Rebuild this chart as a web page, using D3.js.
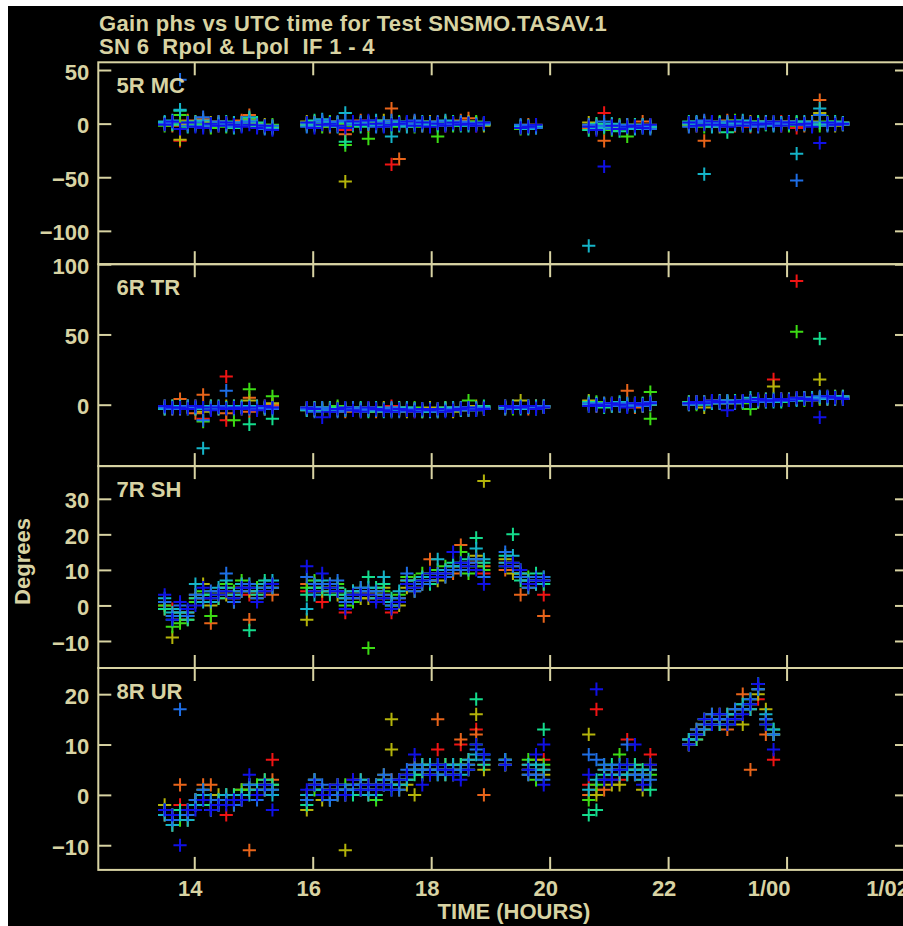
<!DOCTYPE html>
<html>
<head>
<meta charset="utf-8">
<script src="https://cdn.jsdelivr.net/npm/d3@7/dist/d3.min.js"></script>
<style>
  html, body { margin: 0; padding: 0; background: #ffffff; }
  svg { display: block; }
</style>
</head>
<body>
<script>
// Antenna panels, top to bottom
const stations = ["5R MC", "6R TR", "7R SH", "8R UR"];

// One colour per IF / polarization solution (8 series)
const seriesColors = ["#f01414", "#e8641a", "#b4b40a", "#3cdc14", "#14dc8c", "#14b4c8", "#1e6ee6", "#1010e6"];

// Time axis ticks (hours UTC; 24 and 26 roll over to day 1)
const timeTicks = [14, 16, 18, 20, 22, 24, 26];
const timeTickLabels = ["14", "16", "18", "20", "22", "1/00", "1/02"];

// Phase axis ticks for each panel (degrees)
const yTicksMC = [50, 0, -50, -100];
const yTicksTR = [100, 50, 0];
const yTicksSH = [30, 20, 10, 0, -10];
const yTicksUR = [20, 10, 0, -10];

// Gain phase rows: [time (h), series 1 .. series 8]  (null = no solution)
const phaseMC = [
  [13.50, -1, 1, 0, -2, 1, 2, 0, -1],
  [13.63, 1, -2, 2, 0, -1, 3, 1, 2],
  [13.76, -16, 2, -15, 8, 12, 13, 41, -5],
  [13.89, 0, 3, -1, 2, -3, 1, -2, 1],
  [14.02, 2, 1, 0, -1, 2, -2, 1, -3],
  [14.15, 1, 4, 2, 0, -2, 3, 6, -4],
  [14.28, -1, -3, 1, -4, 0, -1, -2, 0],
  [14.41, 0, 2, -2, 1, -1, 0, 2, -2],
  [14.54, 1, -1, 0, -3, 2, -2, -1, 1],
  [14.67, -2, 0, 1, -2, -4, 1, -3, -1],
  [14.80, 2, 3, -1, 0, 1, -2, 1, -3],
  [14.93, 4, 8, 2, 5, 3, 6, 2, -1],
  [15.06, -1, -2, 0, -3, 1, -2, -1, -4],
  [15.19, -3, -2, -1, -4, -2, -3, -5, -2],
  [15.32, -2, -4, -3, -1, -3, -5, -2, -6],
  [15.90, 0, -1, 2, 1, -2, 0, -3, 1],
  [16.03, 1, 2, -1, 0, 3, -2, 1, -4],
  [16.16, -2, 0, 1, -3, 2, 4, 3, -1],
  [16.29, 2, -3, 0, 2, -1, 1, -2, 0],
  [16.42, -1, 1, -2, 0, 1, -3, 2, -2],
  [16.55, -6, -10, -54, -20, -17, 10, 3, -4],
  [16.68, 1, 0, 2, -2, 0, 1, -1, 2],
  [16.81, -2, 3, 0, 1, -3, 0, 2, -1],
  [16.94, 0, -2, 1, -14, 2, -1, 0, 3],
  [17.07, 2, 1, -1, 0, -2, 3, -3, 0],
  [17.20, -1, 0, 3, -2, 1, -2, 1, -3],
  [17.33, -38, 14, 2, -3, 0, -12, 3, -1],
  [17.46, 1, -33, 0, 2, -2, 1, -1, 0],
  [17.59, -2, 1, -1, 0, 2, -3, 0, 2],
  [17.72, 0, 2, 1, -3, -1, 0, 3, -2],
  [17.85, 1, -1, -2, 1, 0, 2, -2, 1],
  [17.98, -1, 0, 2, -2, 1, -1, 1, -3],
  [18.11, 0, 1, -1, -12, -2, 0, 2, 0],
  [18.24, 2, -2, 0, 1, -1, 3, -1, -2],
  [18.37, -1, 0, 1, -2, 2, -1, 0, 1],
  [18.50, 0, 3, -1, 0, -2, 1, 2, -1],
  [18.63, 1, 5, 2, -1, 0, -2, 1, 0],
  [18.76, -2, 0, 1, 2, -1, 0, -1, -2],
  [18.89, 0, -1, -2, 0, 1, -1, 0, 1],
  [19.51, -4, -2, -3, -5, -2, -3, -1, -4],
  [19.64, -3, -1, -4, -2, -3, -5, -2, -3],
  [19.77, -2, -3, -1, -4, -2, -3, -4, -1],
  [20.66, -2, -4, 1, -3, -6, -114, -1, -3],
  [20.79, -1, -3, -5, -2, 0, -4, -2, -6],
  [20.92, 10, -16, -2, -4, -1, -3, 2, -40],
  [21.05, -3, -1, -4, -6, -2, 0, -5, -2],
  [21.18, -4, -2, -3, -1, -7, -3, -2, -5],
  [21.31, -2, -5, -1, -12, -3, -4, -1, -3],
  [21.44, -3, -1, -4, -2, -1, -5, -3, -2],
  [21.57, -1, 2, -2, -3, -4, -1, -2, -4],
  [21.70, -2, -3, -1, -4, -2, -3, -5, -1],
  [22.35, 0, -2, 1, -1, 2, 0, -3, 1],
  [22.48, -1, 1, -2, 0, -1, 2, 1, -2],
  [22.61, 2, -16, 0, -3, 1, -47, 3, -1],
  [22.74, -2, 0, 2, 1, -1, -3, 0, 2],
  [22.87, 1, -1, -3, 2, 0, 1, -2, -1],
  [23.00, 0, 3, 1, -1, -8, 0, 2, -3],
  [23.13, -1, -2, 0, 3, 1, -1, -1, 2],
  [23.26, 2, 0, -1, -2, 0, 3, 1, -2],
  [23.39, -3, 1, 2, 0, -2, -1, 0, 1],
  [23.52, 0, -1, -2, 1, 2, 0, -3, -1],
  [23.65, 1, 2, 0, -1, -1, 2, 1, 0],
  [23.78, -1, 0, 1, 2, 0, -2, -1, 2],
  [23.91, 2, -2, -1, 0, 1, 1, 0, -2],
  [24.04, 0, 1, 2, -2, -1, 0, 2, 1],
  [24.17, -4, 0, -1, 1, 2, -28, -53, -1],
  [24.30, 1, -2, 0, -1, 0, 2, -1, 0],
  [24.43, -2, 1, 2, 0, -2, -1, 1, -3],
  [24.56, 0, 22, 10, -2, 1, 14, 8, -18],
  [24.69, 1, -1, 0, 2, -1, 0, -2, 1],
  [24.82, -1, 0, -2, 0, 2, -1, 1, -1],
  [24.95, 0, -1, 1, -1, 0, 1, -1, 0]
];

const phaseTR = [
  [13.50, -2, -1, -3, -2, -1, -3, -2, -1],
  [13.63, -1, -3, -2, -1, -2, -1, -3, -2],
  [13.76, -3, 4, -1, -2, -2, -1, -3, -2],
  [13.89, -2, -1, -2, -3, -1, -2, -1, -3],
  [14.02, -1, -6, -3, -1, -2, -3, -2, -1],
  [14.15, -10, 7, -5, -12, -2, -31, -11, -2],
  [14.28, -3, -2, -1, -2, -3, -1, -2, -4],
  [14.41, -2, -3, -2, -1, -2, -3, -1, -2],
  [14.54, 20, -6, -1, -3, -2, -2, 10, -3],
  [14.54, -11, null, null, null, null, null, null, null],
  [14.67, -2, -3, -1, -11, -2, -1, -3, -2],
  [14.80, -1, -2, -3, -2, -1, -2, -2, -3],
  [14.93, -2, 5, 3, 11, -14, -1, -3, -2],
  [14.93, null, -5, null, null, null, null, null, null],
  [15.06, -3, -1, -2, -2, -3, -1, -2, -4],
  [15.19, -2, -3, -1, -3, -2, -2, -3, -1],
  [15.32, -1, 0, 1, 6, -10, -2, -3, -2],
  [15.90, -3, -2, -4, -3, -2, -4, -3, -2],
  [16.03, -4, -3, -2, -4, -3, -2, -5, -3],
  [16.16, -3, -4, -3, -2, -4, -3, -2, -9],
  [16.29, -2, -3, -4, -3, -2, -4, -3, -5],
  [16.42, -4, -3, -2, -1, -3, -4, -5, -3],
  [16.55, -3, -5, -3, -4, -2, -3, -4, -2],
  [16.68, -2, -4, -3, -2, -4, -3, -2, -4],
  [16.81, -4, -3, -5, -3, -2, -4, -3, -5],
  [16.94, -3, -2, -4, -3, -5, -3, -4, -2],
  [17.07, -4, -5, -3, -4, -3, -2, -4, -3],
  [17.20, -3, -4, -2, -3, -4, -5, -3, -4],
  [17.33, -1, -3, -4, -5, -3, -4, -2, -5],
  [17.46, -4, -2, -3, -4, -2, -3, -5, -3],
  [17.59, -3, -4, -5, -3, -4, -2, -3, -4],
  [17.72, -5, -3, -4, -2, -3, -4, -3, -5],
  [17.85, -4, -5, -3, -4, -5, -3, -4, -3],
  [17.98, -3, -4, -2, -3, -4, -5, -3, -4],
  [18.11, -4, -3, -4, -5, -3, -4, -5, -3],
  [18.24, -3, -2, -3, -4, -2, -3, -4, -5],
  [18.37, -4, -3, -5, -3, -4, -2, -3, -4],
  [18.50, -2, -4, -3, -2, -3, -4, -2, -3],
  [18.63, -3, -2, -4, 3, -2, -3, -4, -2],
  [18.76, -2, -3, -1, -3, -4, -2, -3, -4],
  [18.89, -3, -2, -3, -2, -1, -3, -2, -3],
  [19.25, -2, -1, -3, -2, -1, -2, -3, -1],
  [19.38, -1, -2, -1, -3, -2, -1, -2, -2],
  [19.51, -2, -1, 3, -1, -2, -3, -1, -2],
  [19.64, -1, -3, -2, -1, -1, -2, -2, -1],
  [19.77, -2, -1, -1, -2, -3, -1, -2, -3],
  [19.90, -1, -2, -2, -1, -2, -1, -1, -2],
  [20.66, 0, 1, 3, -1, 2, 0, 1, -1],
  [20.79, -1, 0, 1, 2, 0, 1, -1, 0],
  [20.92, 1, -1, 0, 1, -2, 0, 1, -1],
  [21.05, 0, 1, -1, 0, 1, -1, 0, 1],
  [21.18, -1, 0, 1, -1, 0, 2, -1, 0],
  [21.31, 1, 10, 0, 1, -1, 0, 1, -2],
  [21.44, 0, -2, 1, 0, 1, -1, 0, 1],
  [21.57, -1, 0, -1, 1, 0, 1, -1, 0],
  [21.70, 0, 1, 0, 9, 1, 0, 2, 1],
  [21.70, null, null, null, -10, null, null, null, null],
  [22.35, 1, 2, 0, 1, 2, 1, 0, 1],
  [22.48, 2, 1, 2, 0, 1, 2, 1, 2],
  [22.61, 1, 2, -2, 2, 1, 0, 2, 1],
  [22.74, 2, 1, 3, 1, 2, 1, 2, 3],
  [22.87, 1, 3, 2, 2, 1, 3, 1, 2],
  [23.00, 2, 1, 2, 3, 2, 1, 3, -4],
  [23.13, 3, 2, 1, 2, 3, 2, 1, 2],
  [23.26, 2, 3, 2, 1, 2, 3, 2, 3],
  [23.39, 3, 2, 3, -3, 2, 5, 3, 2],
  [23.52, 2, 3, 2, 3, 4, 2, 3, 4],
  [23.65, 3, 4, 3, 2, 3, 4, 2, 3],
  [23.78, 18, 3, 13, 4, 3, 2, 4, 3],
  [23.91, 4, 3, 4, 3, 2, 4, 3, 4],
  [24.04, 3, 4, 3, 4, 3, 3, 4, 3],
  [24.17, 88, 4, 5, 52, 4, 3, 4, 5],
  [24.30, 4, 5, 4, 3, 5, 4, 5, 4],
  [24.43, 5, 4, 3, 5, 4, 5, 4, 3],
  [24.56, 4, 5, 18, 4, 47, 5, 6, -9],
  [24.69, 5, 4, 5, 6, 5, 4, 5, 6],
  [24.82, 4, 6, 5, 4, 6, 5, 4, 5],
  [24.95, 5, 4, 6, 5, 4, 6, 5, 4]
];

const phaseSH = [
  [13.50, 0, -1, 1, 0, -1, 2, 1, 3],
  [13.63, -1, -3, -9, -6, -4, -2, -3, -4],
  [13.76, -2, -4, -3, -5, -2, -1, 0, 1],
  [13.89, -3, -2, -4, -3, -4, -2, -3, -1],
  [14.02, 1, 2, 3, 1, 2, 6, 3, 0],
  [14.15, 2, 3, 6, 4, 3, 1, 2, 5],
  [14.28, 1, -5, 0, -3, 3, 1, 4, 2],
  [14.41, 3, 2, 4, 3, 2, 5, 4, 3],
  [14.54, 4, 5, 3, 6, 5, 7, 9, 4],
  [14.67, 2, 3, 1, 4, 2, 3, 1, 2],
  [14.80, 5, 6, 4, 7, 5, 6, 4, 5],
  [14.93, 3, -4, 4, 6, -7, 5, 6, 5],
  [15.06, 3, 4, 2, 5, 3, 4, 2, 1],
  [15.19, 5, 4, 6, 5, 7, 6, 5, 4],
  [15.32, 5, 3, 6, 5, 6, 7, 5, 6],
  [15.90, 4, 6, -4, 5, 3, -1, 8, 11],
  [16.03, 5, 4, 6, 7, 5, 3, 6, 4],
  [16.16, 1, 5, 4, 6, 5, 7, 6, 9],
  [16.29, 5, 4, 6, 5, 3, 4, 6, 5],
  [16.42, 4, 5, 3, 6, 5, 4, 7, 4],
  [16.55, -2, 1, 2, 0, 3, 2, 1, -1],
  [16.68, 3, 2, 4, 1, 3, 4, 2, 3],
  [16.81, 4, 3, 2, 5, 3, 4, 5, 3],
  [16.94, 3, 4, 2, -12, 8, 5, 4, 3],
  [17.07, 2, 3, 4, 3, 5, 2, 4, 1],
  [17.20, 3, 2, 5, 4, 6, 8, 3, 2],
  [17.33, -2, -1, 1, 0, 2, 1, 0, -1],
  [17.46, 1, 2, 0, 3, 1, 4, 2, 1],
  [17.59, 6, 7, 5, 8, 6, 7, 9, 6],
  [17.72, 5, 6, 4, 7, 5, 6, 4, 5],
  [17.85, 7, 8, 6, 9, 7, 8, 6, 7],
  [17.98, 8, 13, 7, 9, 6, 8, 7, 9],
  [18.11, 8, 9, 7, 10, 8, 13, 9, 8],
  [18.24, 9, 10, 8, 11, 9, 10, 8, 9],
  [18.37, 10, 9, 11, 10, 12, 11, 10, 15],
  [18.50, 11, 17, 10, 15, 12, 11, 10, 12],
  [18.63, 10, 12, 11, 9, 13, 10, 12, 11],
  [18.76, 12, 13, 14, 11, 19, 16, 13, 10],
  [18.89, 9, 11, 35, 10, 12, 13, 8, 6],
  [19.25, 12, 10, 13, 11, 14, 12, 15, 11],
  [19.38, 10, 11, 9, 12, 20, 14, 11, 12],
  [19.51, 8, 3, 9, 10, 7, 9, 8, 10],
  [19.64, 6, 7, 5, 8, 6, 7, 5, 6],
  [19.77, 7, 6, 8, 7, 9, 6, 8, 7],
  [19.90, 3, -3, 7, 8, 6, 7, 8, 7]
];

const phaseUR = [
  [13.50, -3, -4, -2, -3, -3, -4, -3, -3],
  [13.63, -5, -4, -6, -5, -4, -6, -5, -4],
  [13.76, -2, 2, -4, -5, -3, -4, 17, -10],
  [13.89, -4, -3, -5, -4, -3, -5, -4, -3],
  [14.02, -1, -2, -1, -2, -1, -2, -1, -3],
  [14.15, 1, 2, 0, 1, -1, 0, 1, -1],
  [14.28, -2, 2, -3, -1, -2, -3, -1, -3],
  [14.41, -1, -2, 0, -1, -2, -1, -2, -2],
  [14.54, -4, 0, -1, 0, -1, 0, -1, -2],
  [14.67, -1, 0, -2, -1, 0, -1, -2, -1],
  [14.80, 0, 1, -1, 1, 0, 0, -1, -1],
  [14.93, 1, -11, 2, 1, 2, 0, 2, 4],
  [15.06, 0, 1, 0, 2, 0, 1, -1, 0],
  [15.19, 2, 3, 1, 2, 3, 2, 1, 2],
  [15.32, 7, 3, 2, 1, 2, 0, 1, -3],
  [15.90, -1, 0, -3, -1, -2, 0, -1, 1],
  [16.03, 2, 3, 2, 1, 3, 2, 3, 2],
  [16.16, 0, 1, -1, 1, 0, 1, 2, 0],
  [16.29, 0, -1, 1, 0, -1, 0, -1, 1],
  [16.42, 1, 2, 0, 1, 2, 1, 0, 2],
  [16.55, 0, 1, -11, 2, 0, 1, 1, 0],
  [16.68, 3, 2, 1, 2, 0, 1, 2, 3],
  [16.81, 2, 1, 3, 2, 1, 3, 2, 1],
  [16.94, 1, 2, 0, 1, 2, 0, 1, 2],
  [17.07, 0, 1, 2, -1, 0, 1, 2, 1],
  [17.20, 3, 2, 4, 3, 2, 3, 4, 2],
  [17.33, 2, 3, 15, 2, 1, 2, 3, 1],
  [17.33, null, null, 9, null, null, null, null, null],
  [17.46, 2, 3, 1, 2, 3, 2, 1, 3],
  [17.59, 4, 3, 2, 3, 4, 3, 5, 4],
  [17.72, 5, 6, 0, 5, 4, 5, 6, 8],
  [17.85, 5, 4, 6, 5, 4, 6, 5, 2],
  [17.98, 5, 4, 6, 5, 4, 6, 5, 4],
  [18.11, 9, 15, 5, 4, 6, 5, 4, 6],
  [18.24, 5, 6, 4, 5, 6, 4, 5, 5],
  [18.37, 5, 4, 6, 5, 4, 6, 5, 4],
  [18.50, 10, 11, 6, 5, 6, 4, 5, 3],
  [18.63, 6, 5, 7, 6, 5, 7, 6, 5],
  [18.76, 13, 12, 16, 10, 19, 8, 9, 10],
  [18.89, 6, 0, 5, 7, 6, 8, 7, 8],
  [19.25, 6, 6, 7, 6, 7, 6, 7, 6],
  [19.64, 5, 6, 4, 7, 5, 6, 4, 5],
  [19.77, 4, 5, 7, 3, 5, 6, 4, 8],
  [19.90, 7, 5, 4, 6, 13, 5, 3, 10],
  [19.90, null, null, null, null, null, null, null, 2],
  [20.66, 2, 0, 12, -1, -4, 1, 8, 4],
  [20.79, 17, 1, 0, 2, -3, 3, 7, 21],
  [20.92, 5, 1, 3, 6, 4, 5, 6, 3],
  [21.05, 4, 5, 2, 5, 6, 4, 5, 3],
  [21.18, 3, 4, 2, 8, 5, 4, 6, 5],
  [21.31, 11, 5, 4, 6, 5, 4, 10, 6],
  [21.44, 5, 6, 4, 5, 6, 5, 4, 10],
  [21.57, 4, 3, 1, 4, 5, 3, 4, 2],
  [21.70, 8, 5, 6, 4, 1, 5, 3, 6],
  [22.35, 10, 11, 10, 10, 11, 11, 10, 10],
  [22.48, 12, 11, 13, 12, 11, 12, 13, 12],
  [22.61, 14, 13, 15, 14, 15, 13, 14, 15],
  [22.74, 15, 14, 16, 15, 14, 15, 16, 14],
  [22.87, 16, 15, 14, 15, 16, 14, 15, 16],
  [23.00, 15, 13, 16, 15, 14, 16, 15, 14],
  [23.13, 16, 15, 17, 16, 15, 16, 17, 15],
  [23.26, 17, 20, 14, 18, 17, 18, 17, 16],
  [23.39, 18, 5, 17, 19, 18, 17, 19, 18],
  [23.52, 19, 21, 20, 22, 21, 22, 21, 22],
  [23.65, 15, 12, 17, 14, 15, 16, 15, 14],
  [23.78, 7, 12, 12, 13, 12, 13, 12, 9]
];

const W = 903, H = 926;
const ink = "#d8d3a3";
const fontFamily = "'Liberation Sans', Arial, Helvetica, sans-serif";
const fontSize = 22;

const svg = d3.select("body").append("svg")
  .attr("width", W).attr("height", H)
  .style("font-family", fontFamily);

// black plotting surface
svg.append("rect")
  .attr("x", 8).attr("y", 6)
  .attr("width", W - 8).attr("height", H - 6)
  .attr("fill", "#000000");

// shared time scale; right frame edge sits just past the page edge
const x = d3.scaleLinear().domain([12.38, 26.05]).range([98.3, 908]);

const panelTop = 62.3, panelH = 201.9, tickLen = 13;

const panels = [
  { label: stations[0], rows: phaseMC, ticks: yTicksMC, domain: [-131.1, 57.2] },
  { label: stations[1], rows: phaseTR, ticks: yTicksTR, domain: [-43.7, 100] },
  { label: stations[2], rows: phaseSH, ticks: yTicksSH, domain: [-17.6, 39.2] },
  { label: stations[3], rows: phaseUR, ticks: yTicksUR, domain: [-14.9, 25.2] }
];

const crossPath = "M-6.6,0H6.6M0,-6.6V6.6";

function styleAxis(g) {
  g.select(".domain").remove();
  g.selectAll(".tick line").attr("stroke", ink).attr("stroke-width", 2);
  g.selectAll(".tick text")
    .attr("fill", ink)
    .style("font-size", fontSize + "px")
    .style("font-weight", "bold")
    .style("font-family", fontFamily);
}

panels.forEach((p, i) => {
  const y0 = panelTop + i * panelH;
  const y1 = y0 + panelH;
  const y = d3.scaleLinear().domain(p.domain).range([y1, y0]);
  const g = svg.append("g");

  // markers: one colour per series, drawn series by series
  seriesColors.forEach((c, s) => {
    const pts = p.rows.filter(r => r[s + 1] !== null && r[s + 1] !== undefined);
    g.append("g").selectAll("path").data(pts).join("path")
      .attr("d", crossPath)
      .attr("transform", r => `translate(${x(r[0])},${y(r[s + 1])})`)
      .attr("fill", "none")
      .attr("stroke", c)
      .attr("stroke-width", 2);
  });

  // frame
  g.append("rect")
    .attr("x", x.range()[0]).attr("y", y0)
    .attr("width", x.range()[1] - x.range()[0]).attr("height", panelH)
    .attr("fill", "none").attr("stroke", ink).attr("stroke-width", 2);

  // left axis: inward ticks with labels
  g.append("g")
    .attr("transform", `translate(${x.range()[0]},0)`)
    .call(d3.axisLeft(y).tickValues(p.ticks).tickSize(-tickLen).tickPadding(9).tickFormat(d3.format("d")))
    .call(styleAxis)
    .call(a => a.selectAll(".tick text").attr("dy", "0.41em"));

  // right axis: inward ticks only
  g.append("g")
    .attr("transform", `translate(${x.range()[1]},0)`)
    .call(d3.axisRight(y).tickValues(p.ticks).tickSize(-tickLen).tickFormat(""))
    .call(styleAxis);

  // time ticks along top and bottom of each panel
  g.append("g")
    .attr("transform", `translate(0,${y0})`)
    .call(d3.axisTop(x).tickValues(timeTicks).tickSize(-tickLen).tickFormat(""))
    .call(styleAxis);

  const isLast = i === panels.length - 1;
  const bottom = g.append("g")
    .attr("transform", `translate(0,${y1})`)
    .call(d3.axisBottom(x).tickValues(timeTicks).tickSize(-tickLen).tickPadding(10)
      .tickFormat((d, k) => isLast ? timeTickLabels[k] : ""))
    .call(styleAxis);
  if (isLast) {
    bottom.selectAll(".tick text")
      .attr("dx", (d, k) => timeTickLabels[k].length > 2 ? -18 : -4.5);
  }

  // station label
  g.append("text")
    .attr("x", 116.5).attr("y", y0 + 31)
    .attr("fill", ink)
    .style("font-size", fontSize + "px").style("font-weight", "bold")
    .text(p.label);
});

// titles
const titleLines = ["Gain phs vs UTC time for Test SNSMO.TASAV.1", "SN 6  Rpol & Lpol  IF 1 - 4"];
svg.append("g").selectAll("text").data(titleLines).join("text")
  .attr("x", 99)
  .attr("y", (d, k) => 31 + k * 22.5)
  .attr("fill", ink)
  .attr("xml:space", "preserve")
  .style("white-space", "pre")
  .style("letter-spacing", "0.35px")
  .style("font-size", fontSize + "px").style("font-weight", "bold")
  .text(d => d);

// axis titles
svg.append("text")
  .attr("transform", "translate(30,561.5) rotate(-90)")
  .attr("text-anchor", "middle")
  .attr("fill", ink)
  .style("font-size", fontSize + "px").style("font-weight", "bold")
  .text("Degrees");

svg.append("text")
  .attr("x", 514).attr("y", 918.5)
  .attr("text-anchor", "middle")
  .attr("fill", ink)
  .style("font-size", fontSize + "px").style("font-weight", "bold")
  .text("TIME (HOURS)");
</script>
</body>
</html>
